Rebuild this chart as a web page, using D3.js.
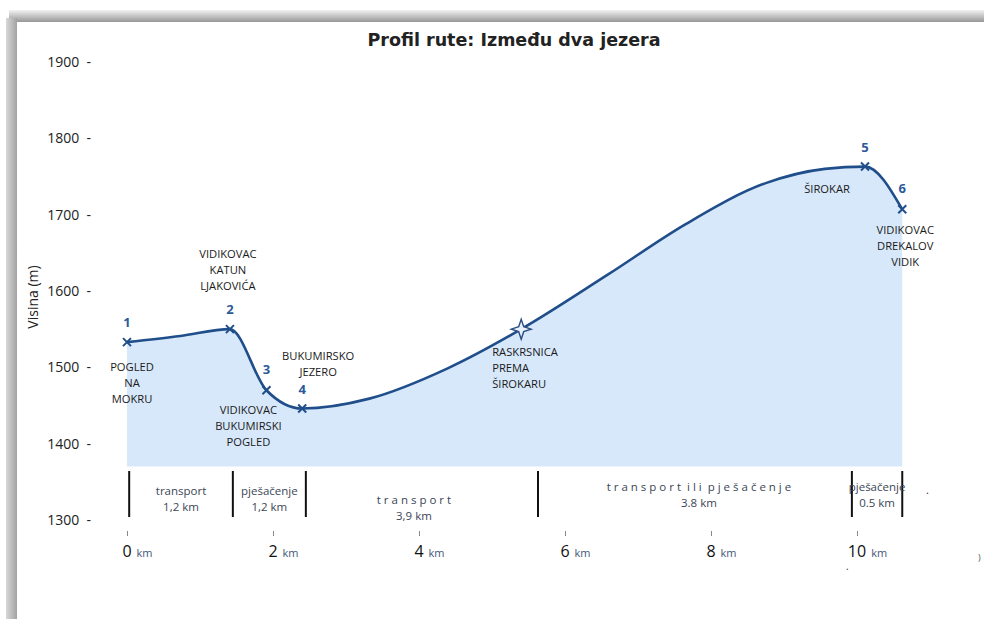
<!DOCTYPE html>
<html>
<head>
<meta charset="utf-8">
<script src="https://cdn.jsdelivr.net/npm/d3@7"></script>
<style>
  body { margin: 0; background: #fff; }
  svg { display: block; }
  text { font-family: "Open Sans", sans-serif; }
</style>
</head>
<body>
<div id="chart"></div>
<script>
// elevation profile of the route (km from start, metres)
const profileKm   = [0, 0.73, 1.41, 1.91, 2.40, 3.32, 4.40, 5.40, 6.58, 7.66, 8.74, 9.56, 10.11, 10.62];
const profileElev = [1533, 1541, 1550, 1470, 1446, 1459, 1499, 1550, 1621, 1688, 1741, 1760, 1763, 1707];

// numbered viewpoints
const pointNo   = ["1", "2", "3", "4", "5", "6"];
const pointKm   = [0, 1.41, 1.91, 2.40, 10.11, 10.62];
const pointElev = [1533, 1550, 1470, 1446, 1763, 1707];

// junction
const junctionKm = 5.40;
const junctionElev = 1550;

// place names (anchored to km / elevation)
const placeNames = [
  ["POGLED", "NA", "MOKRU"],
  ["VIDIKOVAC", "KATUN", "LJAKOVIĆA"],
  ["VIDIKOVAC", "BUKUMIRSKI", "POGLED"],
  ["BUKUMIRSKO", "JEZERO"],
  ["RASKRSNICA", "PREMA", "ŠIROKARU"],
  ["ŠIROKAR"],
  ["VIDIKOVAC", "DREKALOV", "VIDIK"]
];
const placeKm   = [0, 1.41, 1.91, 2.40, 5.40, 10.11, 10.62];
const placeElev = [1533, 1550, 1470, 1446, 1550, 1763, 1707];

// route sections below the profile
const sectionBounds = [0.03, 1.45, 2.45, 5.63, 9.93, 10.62];
const sectionMode   = ["transport", "pješačenje", "t r a n s p o r t", "t r a n s p o r t  i l i  p j e š a č e n j e", "pješačenje"];
const sectionLength = ["1,2 km", "1,2 km", "3,9 km", "3.8 km", "0.5 km"];

const yTicks = [1300, 1400, 1500, 1600, 1700, 1800, 1900];
const xTicks = [0, 2, 4, 6, 8, 10];

const W = 984, H = 619;
const lineColor = "#1f4e8a";
const numColor = "#2c5a99";

const svg = d3.select("#chart").append("svg")
  .attr("width", W)
  .attr("height", H);

// picture frame (grey shadow top and left)
const defs = svg.append("defs");
const gTop = defs.append("linearGradient").attr("id", "gTop")
  .attr("x1", 0).attr("y1", 0).attr("x2", 0).attr("y2", 1);
gTop.append("stop").attr("offset", "0%").attr("stop-color", "#f2f2f2");
gTop.append("stop").attr("offset", "100%").attr("stop-color", "#979797");
const gLeft = defs.append("linearGradient").attr("id", "gLeft")
  .attr("x1", 0).attr("y1", 0).attr("x2", 1).attr("y2", 0);
gLeft.append("stop").attr("offset", "0%").attr("stop-color", "#d8d8d8");
gLeft.append("stop").attr("offset", "100%").attr("stop-color", "#a2a2a2");

svg.append("rect").attr("x", 9).attr("y", 10).attr("width", W - 9).attr("height", 12).attr("fill", "url(#gTop)");
svg.append("rect").attr("x", 6).attr("y", 18).attr("width", 11).attr("height", H - 18).attr("fill", "url(#gLeft)");

const x = d3.scaleLinear().domain([0, 10]).range([127, 857]);
const y = d3.scaleLinear().domain([1300, 1900]).range([520, 62]);

const profile = profileKm.map((k, i) => ({ km: k, elev: profileElev[i] }));
const curve = d3.curveMonotoneX;

// filled area under the profile
svg.append("path")
  .datum(profile)
  .attr("fill", "#d7e8fa")
  .attr("d", d3.area().curve(curve)
    .x(d => x(d.km))
    .y0(y(1370))
    .y1(d => y(d.elev)));

svg.append("path")
  .datum(profile)
  .attr("fill", "none")
  .attr("stroke", lineColor)
  .attr("stroke-width", 2.6)
  .attr("d", d3.line().curve(curve)
    .x(d => x(d.km))
    .y(d => y(d.elev)));

// title
svg.append("text")
  .attr("x", 514).attr("y", 46)
  .attr("text-anchor", "middle")
  .style("font-family", "'DejaVu Sans', sans-serif")
  .style("font-weight", "bold")
  .style("font-size", "17.5px")
  .attr("fill", "#222")
  .text("Profil rute: Između dva jezera");

// y axis
const yAxis = svg.append("g")
  .attr("transform", "translate(91,0)")
  .call(d3.axisLeft(y).tickValues(yTicks).tickSize(0).tickPadding(0).tickFormat(d => d + "  -"));
yAxis.select(".domain").remove();
yAxis.selectAll("text")
  .style("font-family", "'Open Sans', sans-serif")
  .style("font-size", "14px")
  .style("white-space", "pre")
  .attr("fill", "#222");

svg.append("text")
  .attr("transform", "translate(38,297) rotate(-90)")
  .attr("text-anchor", "middle")
  .style("font-size", "14px")
  .attr("fill", "#222")
  .text("Visina (m)");

// x axis
const xAxis = svg.append("g")
  .attr("transform", "translate(0,531)")
  .call(d3.axisBottom(x).tickValues(xTicks).tickSize(5).tickFormat(""));
xAxis.select(".domain").remove();
xAxis.selectAll(".tick line").attr("stroke", "#888").attr("stroke-width", 1);

const xLab = svg.append("g").selectAll("g")
  .data(xTicks)
  .join("g");
xLab.append("text")
  .attr("x", d => x(d))
  .attr("y", 557)
  .attr("text-anchor", "middle")
  .style("font-size", "16px")
  .attr("fill", "#111")
  .text(d => d);
xLab.append("text")
  .attr("x", d => x(d) + String(d).length * 4.6 + 5)
  .attr("y", 557)
  .style("font-size", "11px")
  .attr("fill", "#3f5777")
  .text("km");

// route sections
svg.append("g").selectAll("line")
  .data(sectionBounds)
  .join("line")
  .attr("x1", d => x(d)).attr("x2", d => x(d))
  .attr("y1", 471).attr("y2", 517)
  .attr("stroke", "#111")
  .attr("stroke-width", 2);

const secOffset = [
  { dx: 0, dy: 0 },
  { dx: 0, dy: 0 },
  { dx: -8, dy: 9 },
  { dx: 4, dy: -4 },
  { dx: 0, dy: -4 }
];
const secG = svg.append("g").selectAll("g")
  .data(sectionMode)
  .join("g")
  .attr("transform", (d, i) => {
    const cx = (x(sectionBounds[i]) + x(sectionBounds[i + 1])) / 2 + secOffset[i].dx;
    return `translate(${cx},${495 + secOffset[i].dy})`;
  });
secG.append("text")
  .attr("text-anchor", "middle")
  .style("font-size", "11.5px")
  .style("white-space", "pre")
  .attr("fill", "#3b4656")
  .text(d => d);
secG.append("text")
  .attr("y", 16)
  .attr("text-anchor", "middle")
  .style("font-size", "11.5px")
  .attr("fill", "#3b4656")
  .text((d, i) => sectionLength[i]);

// stray marks in the original scan
svg.append("text").attr("x", 926).attr("y", 494).style("font-size", "11px").attr("fill", "#333").text(".");
svg.append("text").attr("x", 846).attr("y", 570).style("font-size", "10px").attr("fill", "#333").text(".");
svg.append("text").attr("x", 978).attr("y", 561).style("font-size", "9px").attr("fill", "#555").text(")");

// markers
svg.append("g").selectAll("path")
  .data(pointKm)
  .join("path")
  .attr("transform", (d, i) => `translate(${x(d)},${y(pointElev[i])})`)
  .attr("d", "M-4,-4L4,4M-4,4L4,-4")
  .attr("stroke", lineColor)
  .attr("stroke-width", 2);

svg.append("path")
  .attr("transform", `translate(${x(junctionKm)},${y(junctionElev)})`)
  .attr("d", "M0,-10L2.5,-2.5L10,0L2.5,2.5L0,10L-2.5,2.5L-10,0L-2.5,-2.5Z")
  .attr("fill", "#e9f2fc")
  .attr("stroke", "#2a4f80")
  .attr("stroke-width", 1.4);

// point numbers
const numOffset = [-20, -20, -21, -20, -20, -21];
svg.append("g").selectAll("text")
  .data(pointNo)
  .join("text")
  .attr("x", (d, i) => x(pointKm[i]))
  .attr("y", (d, i) => y(pointElev[i]) + numOffset[i] + 5)
  .attr("text-anchor", "middle")
  .style("font-size", "13px")
  .style("font-weight", "bold")
  .attr("fill", numColor)
  .text(d => d);

// place names
const placeOffset = [
  { dx: 5, dy: 25, anchor: "middle" },
  { dx: -2, dy: -75, anchor: "middle" },
  { dx: -18, dy: 20, anchor: "middle" },
  { dx: 16, dy: -53, anchor: "middle" },
  { dx: -29, dy: 23, anchor: "start" },
  { dx: -38, dy: 22, anchor: "middle" },
  { dx: 3, dy: 21, anchor: "middle" }
];
const placeG = svg.append("g").selectAll("text")
  .data(placeNames)
  .join("text")
  .attr("text-anchor", (d, i) => placeOffset[i].anchor)
  .style("font-size", "11.2px")
  .attr("fill", "#1a1a1a");
placeG.each(function (lines, i) {
  const px = x(placeKm[i]) + placeOffset[i].dx;
  const py = y(placeElev[i]) + placeOffset[i].dy;
  d3.select(this).selectAll("tspan")
    .data(lines)
    .join("tspan")
    .attr("x", px)
    .attr("y", (t, j) => py + j * 16 + 4)
    .text(t => t);
});
</script>
</body>
</html>
